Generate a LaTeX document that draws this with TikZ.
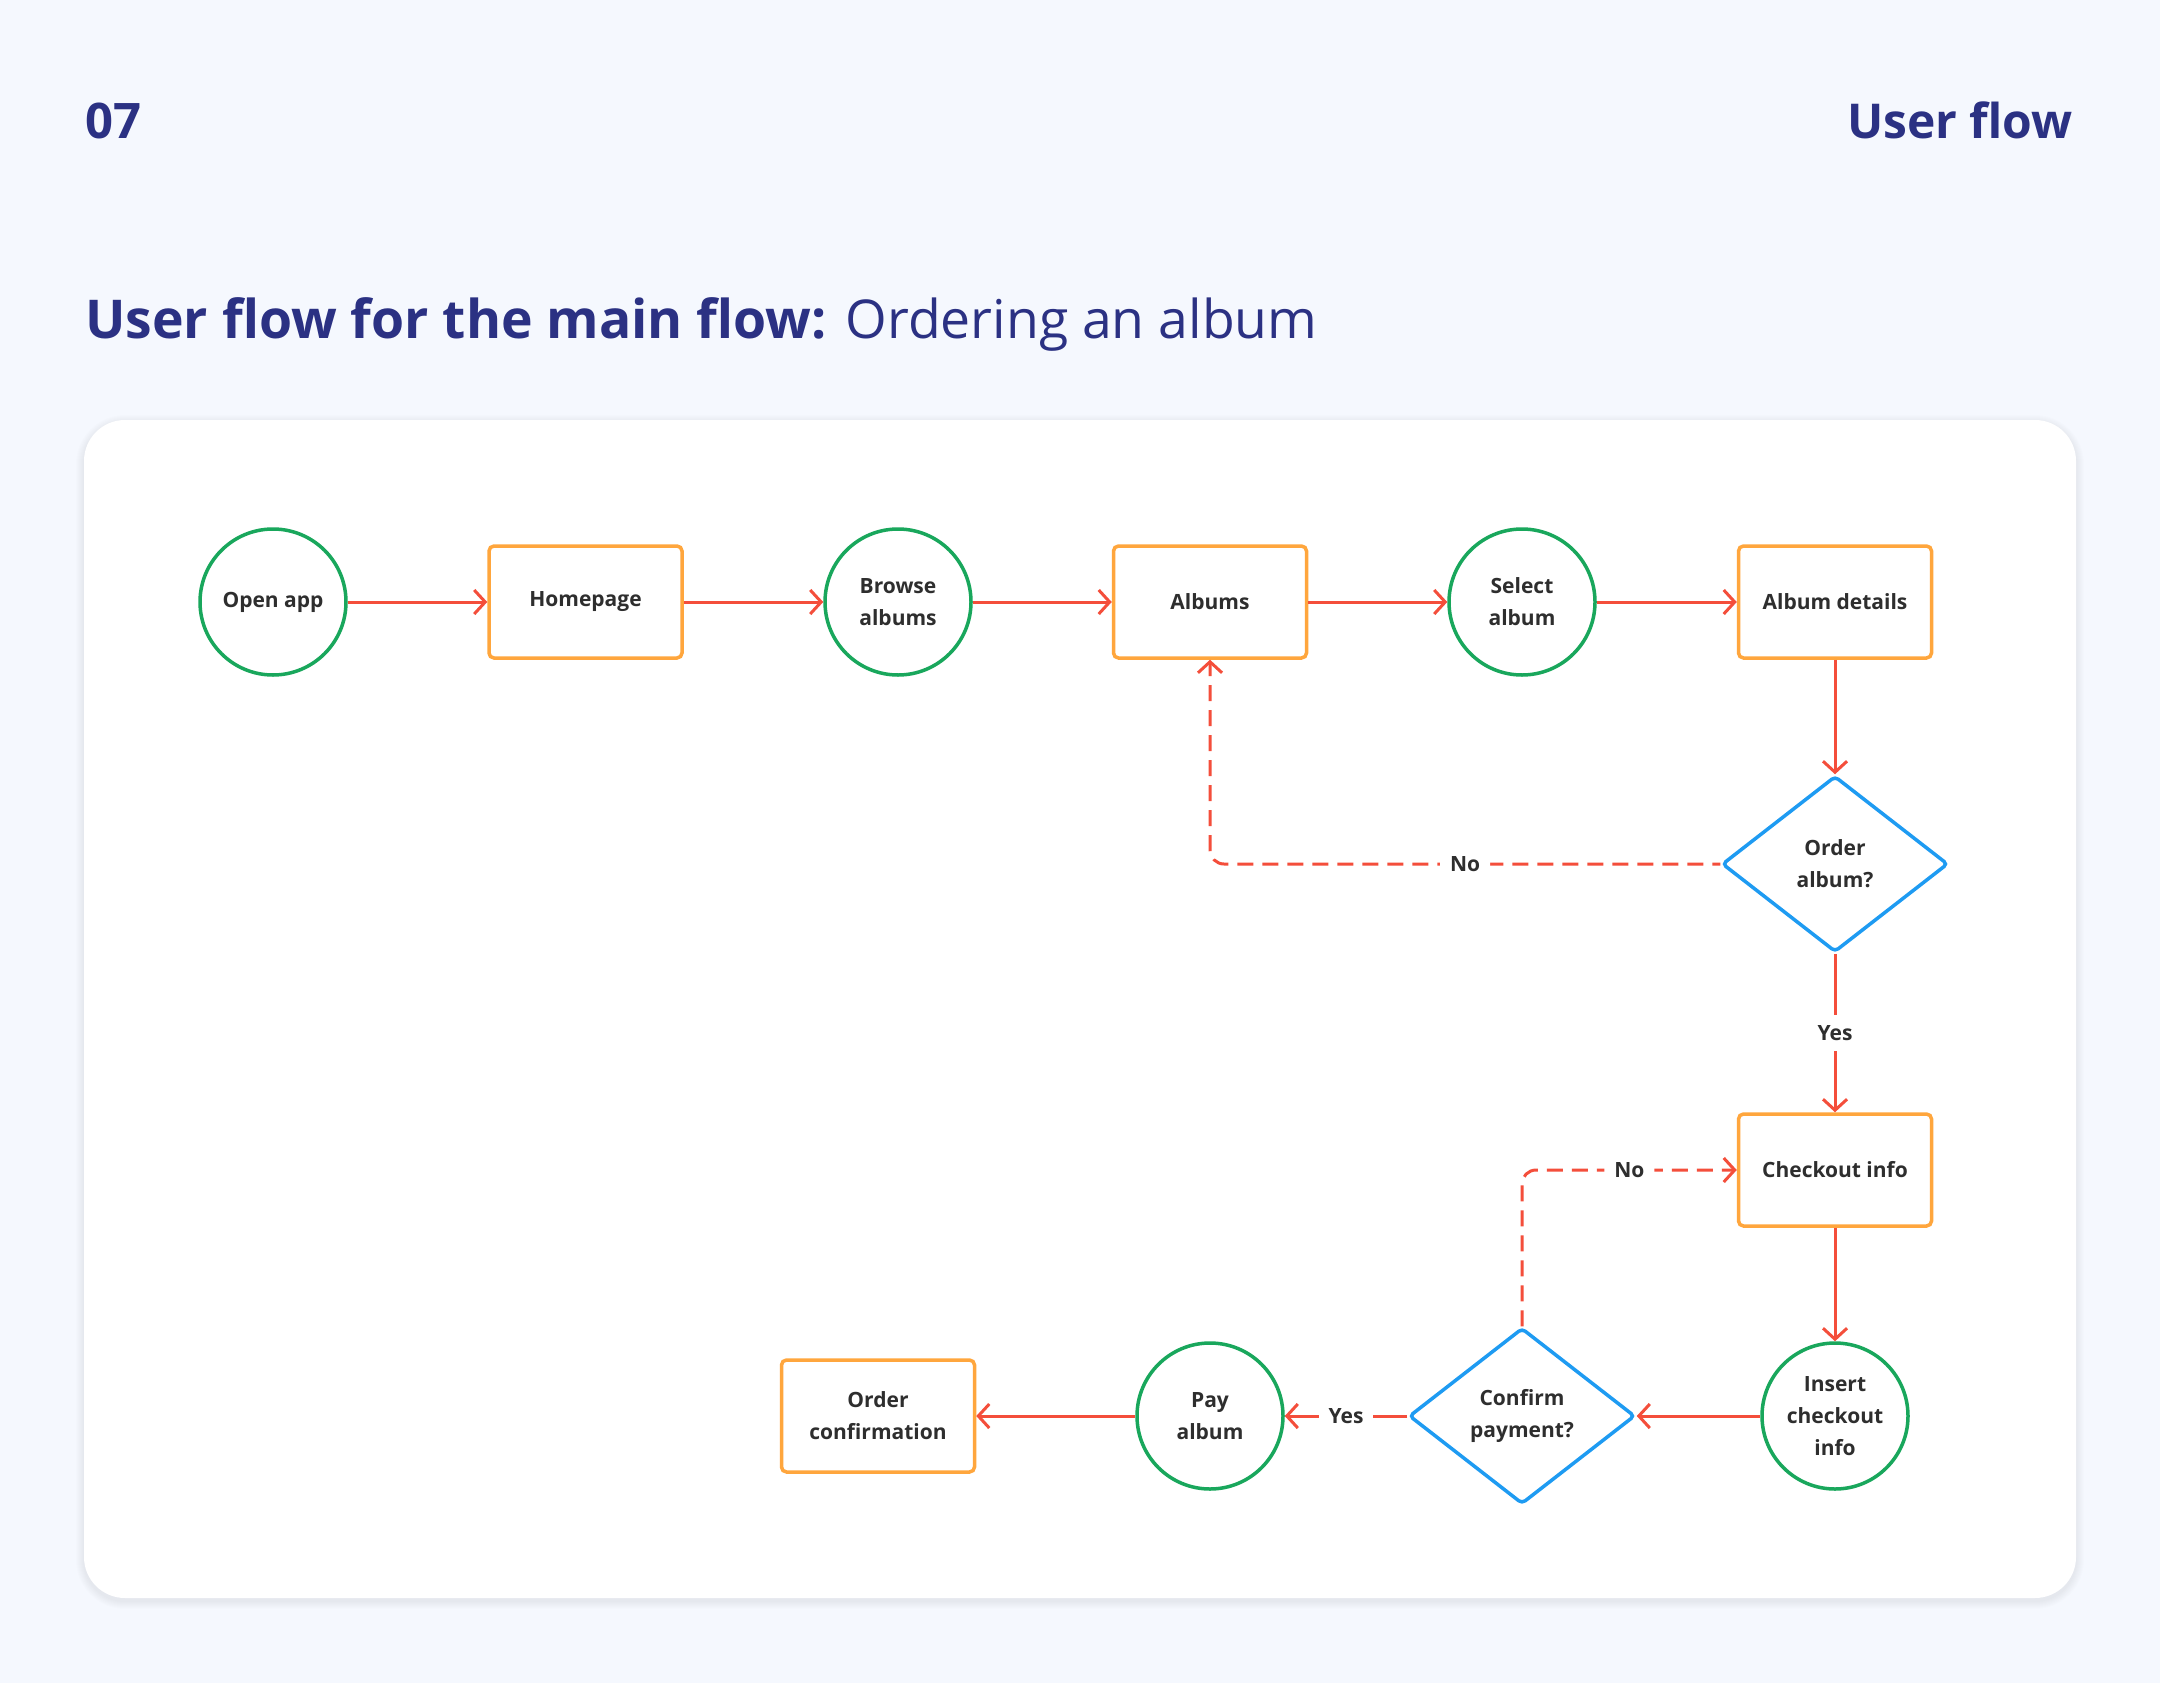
\documentclass[tikz,border=0pt]{standalone}
\usepackage{fontspec}
\setmainfont{Open Sans}
\usetikzlibrary{shapes.geometric,arrows.meta}
\definecolor{bgc}{HTML}{F5F8FE}
\definecolor{navy}{HTML}{2B3183}
\definecolor{gr}{HTML}{19A75C}
\definecolor{org}{HTML}{FFA63D}
\definecolor{blu}{HTML}{1E9BF2}
\definecolor{rd}{HTML}{F44E3B}
\definecolor{txt}{HTML}{2E2E2E}
\tikzset{
  ntext/.style={font=\bfseries\fontsize{21}{32}\selectfont, text=txt, align=center},
  circ/.style={ntext, circle, draw=gr, line width=3.5pt, fill=white, minimum size=146pt, inner sep=0pt},
  box/.style={ntext, rectangle, rounded corners=5pt, draw=org, line width=3.5pt, fill=white, minimum width=193pt, minimum height=112pt, inner sep=0pt},
  dia/.style={ntext, diamond, rounded corners=4pt, draw=blu, line width=3.5pt, fill=white, minimum width=226pt, minimum height=176pt, inner sep=0pt},
  flow/.style={draw=rd, line width=3pt, -{Straight Barb[length=11pt,width=24pt,line width=3pt]}},
  dashline/.style={dash pattern=on 16pt off 9pt},
  lbl/.style={ntext, fill=white, inner sep=10pt},
}
\begin{document}
\begin{tikzpicture}[x=1pt,y=-1pt]
\useasboundingbox (0,0) rectangle (2160,1683);
\fill[bgc] (0,0) rectangle (2160,1683);
% card shadow
\foreach \i in {1,...,8}{
  \fill[black, opacity=0.006, rounded corners=41pt+\i pt] (84-\i,420-\i+3) rectangle (2076+\i,1598+\i+3);
}
\fill[white, rounded corners=41pt] (84,420) rectangle (2076,1598);
% headings
\node[anchor=base west, inner sep=0pt, text=navy, font=\bfseries\fontsize{49}{58}\selectfont] (num) at (85,139) {07};
\node[anchor=base east, inner sep=0pt, text=navy, font=\bfseries\fontsize{48}{58}\selectfont] (hdr) at (2073,139) {User flow};
\node[anchor=base west, inner sep=0pt, text=navy, font=\fontsize{53.5}{62}\selectfont] (title) at (85,338) {\textbf{User flow for the main flow:} Ordering an album};
% nodes
\node[circ] (open) at (273,602) {Open app};
\node[box] (home) at (585.5,602) {Homepage};
\node[circ] (browse) at (898,602) {Browse\\albums};
\node[box] (albums) at (1210,602) {Albums};
\node[circ] (select) at (1522,602) {Select\\album};
\node[box] (details) at (1835,602) {Album details};
\node[dia] (order) at (1835,864) {Order\\album?};
\node[box] (checkout) at (1835,1170) {Checkout info};
\node[circ] (insert) at (1835,1416) {Insert\\checkout\\info};
\node[dia] (confirm) at (1522,1416) {Confirm\\payment?};
\node[circ] (pay) at (1210,1416) {Pay\\album};
\node[box] (confirmation) at (878,1416) {Order\\confirmation};
% connectors
\draw[flow] (open) -- (home);
\draw[flow] (home) -- (browse);
\draw[flow] (browse) -- (albums);
\draw[flow] (albums) -- (select);
\draw[flow] (select) -- (details);
\draw[flow] (details) -- (order);
\draw[flow] (order) -- node[lbl]{Yes} (checkout);
\draw[flow, dashline, dash phase=8pt, rounded corners=14pt] (order.west) -| node[lbl, pos=0.25]{No} (albums.south);
\draw[flow, dashline, rounded corners=14pt] (confirm.north) |- node[lbl, pos=0.75]{No} (checkout.west);
\draw[flow] (checkout) -- (insert);
\draw[flow] (insert) -- (confirm);
\draw[flow] (confirm) -- node[lbl]{Yes} (pay);
\draw[flow] (pay) -- (confirmation);
\end{tikzpicture}
\end{document}
